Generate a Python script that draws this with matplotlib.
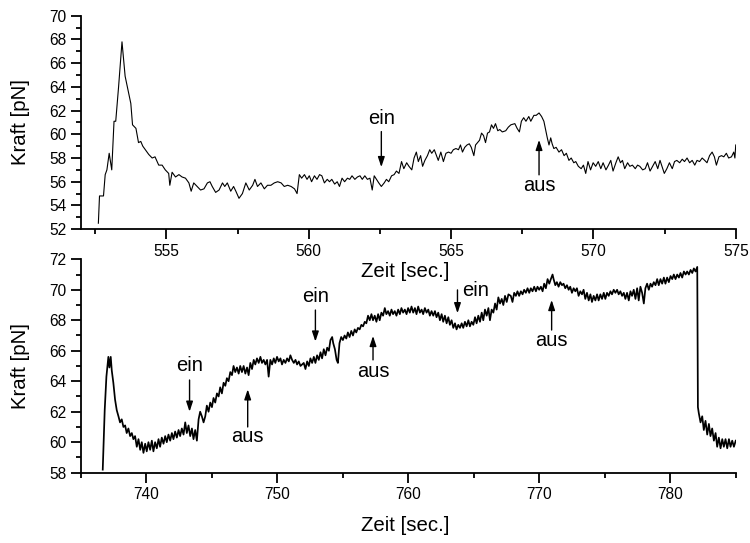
"""
Kraftverlauf (Kraft gegen Zeit) mit ein/aus-Markierungen, zwei Messreihen
"""
import matplotlib
import matplotlib.pyplot as plt
from matplotlib.ticker import MultipleLocator

matplotlib.use("Agg")
matplotlib.rcParams["font.family"] = ["Liberation Sans", "DejaVu Sans"]

# Messreihe 1 (oben): (Zeit [s], Kraft [pN])
top_points = [
    (552.61, 52.5), (552.65, 54.8), (552.79, 54.8), (552.85, 56.6), (552.91, 57.0),
    (552.99, 58.4), (553.08, 57.0), (553.16, 61.1), (553.22, 61.1), (553.32, 64.0),
    (553.44, 67.8), (553.55, 64.9), (553.67, 63.5), (553.75, 62.6), (553.81, 60.8),
    (553.93, 60.5), (554.02, 59.3), (554.10, 59.4), (554.17, 59.0), (554.26, 58.7),
    (554.38, 58.3), (554.50, 58.0), (554.60, 58.1), (554.73, 57.4), (554.85, 57.4),
    (554.96, 57.0), (555.08, 56.7), (555.12, 55.7), (555.20, 56.8), (555.32, 56.4),
    (555.44, 56.6), (555.55, 56.4), (555.67, 56.3), (555.79, 55.9), (555.87, 55.2),
    (555.96, 55.9), (556.08, 55.6), (556.20, 55.3), (556.32, 55.4), (556.44, 55.9),
    (556.53, 56.0), (556.61, 55.6), (556.73, 55.1), (556.85, 55.3), (556.97, 55.9),
    (557.05, 55.6), (557.14, 55.9), (557.26, 55.2), (557.36, 55.6), (557.44, 55.2),
    (557.55, 54.6), (557.67, 55.0), (557.79, 55.9), (557.91, 55.3), (558.03, 55.7),
    (558.11, 56.2), (558.20, 55.6), (558.32, 55.9), (558.44, 55.4), (558.55, 55.7),
    (558.67, 55.7), (558.79, 55.9), (558.91, 56.0), (559.03, 55.9), (559.14, 55.6),
    (559.26, 55.7), (559.38, 55.6), (559.50, 55.4), (559.59, 55.0), (559.67, 56.6),
    (559.75, 56.3), (559.85, 56.6), (559.94, 56.2), (560.02, 56.5), (560.10, 56.0),
    (560.20, 56.5), (560.29, 56.2), (560.38, 56.6), (560.46, 56.5), (560.55, 55.9),
    (560.65, 56.2), (560.73, 56.0), (560.81, 56.2), (560.91, 55.8), (561.00, 56.0),
    (561.08, 55.6), (561.17, 56.3), (561.26, 56.0), (561.36, 56.3), (561.44, 56.2),
    (561.52, 56.5), (561.62, 56.2), (561.71, 56.4), (561.80, 56.5), (561.88, 56.2),
    (561.97, 56.5), (562.06, 56.2), (562.15, 56.3), (562.23, 55.3), (562.30, 56.5),
    (562.38, 56.2), (562.46, 55.9), (562.55, 55.6), (562.65, 55.9), (562.73, 56.2),
    (562.81, 56.0), (562.91, 56.5), (563.00, 56.6), (563.08, 56.9), (563.17, 56.7),
    (563.26, 57.7), (563.34, 57.1), (563.44, 57.6), (563.52, 57.3), (563.62, 57.0),
    (563.70, 58.0), (563.78, 58.5), (563.85, 57.7), (563.93, 58.2), (564.00, 57.3),
    (564.08, 57.8), (564.17, 58.2), (564.25, 58.7), (564.32, 58.4), (564.41, 58.7),
    (564.49, 58.2), (564.55, 57.8), (564.64, 58.5), (564.73, 57.7), (564.82, 58.4),
    (564.91, 58.5), (565.00, 58.4), (565.08, 58.7), (565.17, 58.8), (565.26, 58.7),
    (565.33, 59.1), (565.40, 58.5), (565.48, 58.9), (565.56, 59.1), (565.64, 59.2),
    (565.71, 58.9), (565.80, 58.2), (565.86, 59.1), (565.93, 59.3), (566.00, 59.5),
    (566.07, 60.1), (566.14, 59.9), (566.21, 59.3), (566.28, 60.1), (566.35, 60.2),
    (566.42, 60.8), (566.49, 60.5), (566.56, 60.9), (566.64, 60.3), (566.71, 60.4),
    (566.80, 60.2), (566.92, 60.3), (567.01, 60.6), (567.10, 60.8), (567.24, 60.9),
    (567.32, 60.5), (567.40, 60.2), (567.47, 61.1), (567.55, 61.4), (567.63, 61.1),
    (567.73, 61.5), (567.80, 61.1), (567.91, 61.6), (567.99, 61.6), (568.09, 61.8),
    (568.18, 61.5), (568.26, 61.1), (568.32, 60.4), (568.38, 59.7), (568.44, 59.1),
    (568.50, 59.7), (568.55, 59.2), (568.61, 58.8), (568.69, 58.9), (568.79, 58.5),
    (568.88, 58.7), (568.97, 58.2), (569.05, 58.4), (569.14, 57.8), (569.22, 58.0),
    (569.31, 57.6), (569.38, 57.7), (569.47, 57.3), (569.57, 57.1), (569.65, 57.4),
    (569.73, 56.7), (569.81, 57.7), (569.90, 57.0), (569.99, 57.6), (570.08, 57.3),
    (570.17, 57.7), (570.26, 57.1), (570.34, 57.6), (570.44, 57.0), (570.53, 57.4),
    (570.61, 57.8), (570.69, 56.9), (570.79, 57.6), (570.87, 58.1), (570.95, 57.6),
    (571.02, 57.8), (571.10, 57.1), (571.20, 57.6), (571.28, 57.3), (571.37, 57.4),
    (571.47, 57.1), (571.55, 57.4), (571.63, 57.3), (571.73, 57.0), (571.82, 57.1),
    (571.90, 57.6), (571.99, 56.9), (572.08, 57.3), (572.17, 57.7), (572.26, 57.1),
    (572.34, 57.8), (572.41, 57.3), (572.49, 56.7), (572.58, 57.1), (572.67, 57.6),
    (572.77, 57.1), (572.85, 57.7), (572.93, 57.8), (573.03, 57.6), (573.12, 57.9),
    (573.20, 57.7), (573.29, 58.0), (573.38, 57.6), (573.47, 57.8), (573.56, 57.4),
    (573.64, 57.8), (573.73, 57.7), (573.82, 58.0), (573.91, 57.8), (573.99, 57.6),
    (574.08, 58.2), (574.17, 58.5), (574.25, 58.1), (574.32, 57.4), (574.41, 58.1),
    (574.50, 58.2), (574.58, 58.1), (574.67, 58.4), (574.75, 58.0), (574.85, 58.1),
    (574.93, 58.5), (574.97, 58.0), (575.00, 59.1),
]

# Messreihe 2 (unten)
bottom_points = [
    (736.66, 58.2), (736.81, 62.1), (736.94, 64.3), (737.09, 65.6), (737.17, 64.9),
    (737.27, 65.6), (737.35, 64.7), (737.47, 63.9), (737.60, 62.8), (737.73, 62.1),
    (737.86, 61.7), (737.98, 61.3), (738.11, 61.5), (738.24, 61.0), (738.37, 61.1),
    (738.49, 60.6), (738.62, 60.9), (738.75, 60.4), (738.88, 60.6), (739.00, 60.2),
    (739.13, 60.4), (739.26, 59.7), (739.39, 60.2), (739.52, 59.5), (739.64, 60.0),
    (739.77, 59.3), (739.90, 59.9), (740.02, 59.4), (740.15, 60.0), (740.28, 59.5),
    (740.41, 60.1), (740.53, 59.4), (740.66, 60.0), (740.79, 59.6), (740.92, 60.2),
    (741.04, 59.7), (741.17, 60.3), (741.30, 59.9), (741.43, 60.4), (741.55, 60.0),
    (741.68, 60.5), (741.81, 60.1), (741.94, 60.6), (742.06, 60.2), (742.19, 60.7),
    (742.32, 60.3), (742.45, 60.8), (742.57, 60.4), (742.70, 60.9), (742.83, 60.5),
    (742.96, 61.3), (743.08, 60.6), (743.21, 61.1), (743.34, 60.4), (743.47, 60.9),
    (743.59, 60.2), (743.72, 60.8), (743.85, 60.1), (743.98, 61.5), (744.10, 62.0),
    (744.23, 61.7), (744.36, 61.3), (744.49, 61.7), (744.61, 62.4), (744.74, 62.0),
    (744.87, 62.6), (745.00, 62.3), (745.12, 62.9), (745.25, 62.6), (745.38, 63.2),
    (745.51, 63.0), (745.63, 63.6), (745.76, 63.2), (745.89, 63.9), (746.02, 63.7),
    (746.14, 64.2), (746.27, 64.0), (746.40, 64.6), (746.53, 64.4), (746.65, 65.0),
    (746.78, 64.6), (746.91, 64.9), (747.04, 64.5), (747.16, 65.0), (747.29, 64.6),
    (747.42, 65.0), (747.55, 64.5), (747.68, 64.9), (747.80, 64.4), (747.93, 65.2),
    (748.06, 64.8), (748.19, 65.4), (748.31, 65.1), (748.44, 65.5), (748.57, 65.2),
    (748.70, 65.6), (748.82, 65.2), (748.95, 65.4), (749.08, 65.1), (749.21, 65.4),
    (749.33, 64.3), (749.46, 65.4), (749.59, 65.1), (749.72, 65.5), (749.84, 65.2),
    (749.97, 65.6), (750.10, 65.3), (750.23, 65.5), (750.35, 65.1), (750.48, 65.4),
    (750.61, 65.2), (750.74, 65.5), (750.87, 65.3), (750.99, 65.7), (751.12, 65.4),
    (751.25, 65.2), (751.38, 65.4), (751.50, 65.1), (751.63, 65.3), (751.76, 65.0),
    (752.01, 65.2), (752.14, 64.8), (752.27, 65.3), (752.40, 65.0), (752.52, 65.5),
    (752.65, 65.2), (752.78, 65.6), (752.90, 65.2), (753.03, 65.7), (753.16, 65.4),
    (753.29, 65.9), (753.41, 65.5), (753.54, 66.1), (753.67, 65.7), (753.80, 66.2),
    (753.93, 66.0), (754.05, 66.7), (754.18, 66.9), (754.26, 66.5), (754.39, 66.1),
    (754.52, 65.4), (754.62, 65.2), (754.74, 66.5), (754.87, 66.9), (755.00, 66.7),
    (755.13, 67.0), (755.26, 66.8), (755.38, 67.2), (755.51, 66.9), (755.64, 67.3),
    (755.77, 67.0), (755.90, 67.4), (756.02, 67.2), (756.15, 67.5), (756.28, 67.4),
    (756.41, 67.7), (756.54, 67.6), (756.67, 67.9), (756.79, 67.8), (756.92, 68.3),
    (757.05, 68.0), (757.18, 68.4), (757.30, 68.0), (757.43, 68.3), (757.56, 67.9),
    (757.69, 68.4), (757.81, 68.0), (757.94, 68.5), (758.07, 68.3), (758.20, 68.8),
    (758.32, 68.4), (758.45, 68.6), (758.58, 68.3), (758.71, 68.7), (758.83, 68.4),
    (758.96, 68.6), (759.09, 68.3), (759.22, 68.7), (759.35, 68.4), (759.47, 68.8),
    (759.60, 68.5), (759.73, 68.7), (759.86, 68.4), (759.98, 68.8), (760.11, 68.5),
    (760.24, 68.9), (760.37, 68.5), (760.50, 68.8), (760.62, 68.4), (760.75, 68.9),
    (760.88, 68.5), (761.01, 68.7), (761.13, 68.4), (761.26, 68.8), (761.39, 68.5),
    (761.52, 68.7), (761.64, 68.3), (761.77, 68.6), (761.90, 68.3), (762.03, 68.6),
    (762.15, 68.2), (762.28, 68.5), (762.41, 68.0), (762.54, 68.4), (762.66, 67.9),
    (762.79, 68.3), (762.92, 67.8), (763.05, 68.2), (763.17, 67.7), (763.30, 68.0),
    (763.43, 67.5), (763.56, 67.8), (763.68, 67.4), (763.81, 67.7), (763.94, 67.5),
    (764.07, 67.8), (764.19, 67.5), (764.32, 67.9), (764.45, 67.6), (764.58, 68.0),
    (764.70, 67.6), (764.83, 67.9), (764.96, 67.7), (765.09, 68.2), (765.21, 67.8),
    (765.34, 68.3), (765.47, 67.9), (765.60, 68.5), (765.72, 68.0), (765.85, 68.7),
    (765.98, 68.3), (766.11, 68.8), (766.23, 68.0), (766.36, 68.7), (766.49, 68.5),
    (766.62, 69.1), (766.74, 68.7), (766.87, 69.5), (767.00, 69.1), (767.13, 69.4),
    (767.25, 69.0), (767.38, 69.6), (767.51, 69.2), (767.64, 69.7), (767.82, 69.6),
    (767.95, 69.2), (768.08, 69.8), (768.21, 69.6), (768.33, 69.9), (768.46, 69.6),
    (768.59, 69.9), (768.72, 69.7), (768.84, 70.0), (768.97, 69.8), (769.10, 70.1),
    (769.23, 69.8), (769.35, 70.1), (769.48, 69.9), (769.61, 70.2), (769.74, 69.9),
    (769.86, 70.2), (769.99, 70.0), (770.12, 70.2), (770.25, 69.9), (770.37, 70.4),
    (770.50, 70.1), (770.63, 70.7), (770.76, 70.4), (770.88, 70.7), (771.01, 71.0),
    (771.09, 70.7), (771.22, 70.3), (771.34, 70.5), (771.47, 70.2), (771.60, 70.5),
    (771.73, 70.3), (771.85, 70.4), (771.98, 70.1), (772.11, 70.3), (772.24, 70.0),
    (772.36, 70.2), (772.49, 69.8), (772.62, 70.1), (772.75, 69.9), (772.87, 70.1),
    (773.00, 69.6), (773.13, 69.9), (773.26, 69.7), (773.38, 70.0), (773.51, 69.4),
    (773.64, 69.8), (773.77, 69.3), (773.90, 69.7), (774.02, 69.2), (774.15, 69.6),
    (774.28, 69.3), (774.41, 69.7), (774.53, 69.3), (774.66, 69.7), (774.79, 69.4),
    (774.92, 69.8), (775.04, 69.4), (775.17, 69.8), (775.30, 69.6), (775.43, 69.9),
    (775.55, 69.7), (775.68, 70.0), (775.81, 69.8), (775.94, 70.0), (776.06, 69.7),
    (776.19, 69.9), (776.32, 69.6), (776.45, 69.8), (776.57, 69.4), (776.70, 69.8),
    (776.83, 69.3), (776.96, 69.9), (777.08, 69.6), (777.21, 70.0), (777.34, 69.4),
    (777.47, 70.1), (777.59, 69.3), (777.72, 70.2), (777.85, 69.8), (777.98, 69.1),
    (778.10, 70.1), (778.23, 70.4), (778.36, 70.0), (778.49, 70.4), (778.61, 70.2),
    (778.74, 70.5), (778.87, 70.3), (779.00, 70.7), (779.12, 70.3), (779.25, 70.7),
    (779.38, 70.4), (779.51, 70.8), (779.63, 70.4), (779.76, 70.8), (779.89, 70.5),
    (780.02, 70.9), (780.15, 70.7), (780.27, 71.0), (780.40, 70.7), (780.53, 71.0),
    (780.66, 70.8), (780.78, 71.1), (780.91, 70.8), (781.04, 71.2), (781.17, 71.0),
    (781.29, 71.2), (781.42, 71.0), (781.55, 71.3), (781.68, 71.1), (781.80, 71.4),
    (781.93, 71.2), (782.06, 71.5), (782.11, 62.3), (782.18, 61.9), (782.31, 61.3),
    (782.44, 61.7), (782.56, 60.8), (782.69, 61.4), (782.82, 60.5), (782.95, 61.2),
    (783.07, 60.4), (783.20, 60.9), (783.33, 60.1), (783.46, 60.6), (783.58, 59.7),
    (783.71, 60.3), (783.84, 59.6), (783.97, 60.2), (784.09, 59.7), (784.22, 60.2),
    (784.35, 59.6), (784.48, 60.2), (784.60, 59.7), (784.73, 60.1), (784.86, 59.7),
    (785.00, 60.1),
]

# Markierungen: (Text, x Pfeil, y Text, y Pfeilanfang, y Pfeilspitze, x Text)
top_marks = [
    ("ein", 562.55, 61.36, 60.23, 57.23, None),
    ("aus", 568.09, 55.65, 56.58, 59.53, None),
]
bottom_marks = [
    ("ein", 743.29, 65.06, 64.08, 62.00, None),
    ("aus", 747.73, 60.36, 61.00, 63.47, None),
    ("ein", 752.90, 69.55, 68.67, 66.60, None),
    ("aus", 757.30, 64.62, 65.40, 66.97, None),
    ("ein", 763.75, 69.94, 69.99, 68.46, 764.13),
    ("aus", 770.94, 66.70, 67.36, 69.33, None),
]


def style_axes(ax, xmajor, xminor):
    for side in ("top", "right"):
        ax.spines[side].set_visible(False)
    for side in ("left", "bottom"):
        ax.spines[side].set_linewidth(1.3)
    ax.xaxis.set_major_locator(MultipleLocator(xmajor))
    ax.xaxis.set_minor_locator(MultipleLocator(xminor))
    ax.yaxis.set_major_locator(MultipleLocator(2))
    ax.yaxis.set_minor_locator(MultipleLocator(1))
    ax.tick_params(which="major", direction="out", length=7, width=1.3, labelsize=11.2, pad=3.5)
    ax.tick_params(which="minor", direction="out", length=3.5, width=1.3)
    ax.set_ylabel("Kraft [pN]", fontsize=14.7)
    ax.yaxis.set_label_coords(-0.078, 0.5)
    # transparenter Hintergrund, damit die Achsenbeschriftung oben sichtbar bleibt
    ax.patch.set_visible(False)


def draw_marks(ax, marks):
    for label, x, y_text, y_tail, y_tip, x_text in marks:
        ax.annotate(
            "", xy=(x, y_tip), xytext=(x, y_tail),
            arrowprops=dict(arrowstyle="-|>,head_length=0.6,head_width=0.2",
                            color="black", lw=1.0, shrinkA=0, shrinkB=0),
        )
        if x_text is None:
            ax.text(x, y_text, label, ha="center", va="center", fontsize=14.5)
        else:
            ax.text(x_text, y_text, label, ha="left", va="center", fontsize=14.5)


fig = plt.figure(figsize=(7.5, 5.43), dpi=100)
ax_top = fig.add_axes([0.108, 0.578, 0.873, 0.393])
ax_bot = fig.add_axes([0.108, 0.1295, 0.873, 0.393])

t_top, f_top = zip(*top_points)
ax_top.plot(t_top, f_top, color="black", linewidth=0.8)
ax_top.set_xlim(552, 575)
ax_top.set_ylim(52, 70)
style_axes(ax_top, 5, 2.5)
ax_top.set_xlabel("Zeit [sec.]", fontsize=14.7)
ax_top.xaxis.set_label_coords(0.495, -0.155)
ax_top.set_zorder(2)
draw_marks(ax_top, top_marks)

t_bot, f_bot = zip(*bottom_points)
ax_bot.plot(t_bot, f_bot, color="black", linewidth=1.25)
ax_bot.set_xlim(735, 785)
ax_bot.set_ylim(58, 72)
style_axes(ax_bot, 10, 5)
ax_bot.set_xlabel("Zeit [sec.]", fontsize=14.7)
ax_bot.xaxis.set_label_coords(0.495, -0.205)
draw_marks(ax_bot, bottom_marks)

fig.savefig("out.png", dpi=100)
plt.close(fig)
